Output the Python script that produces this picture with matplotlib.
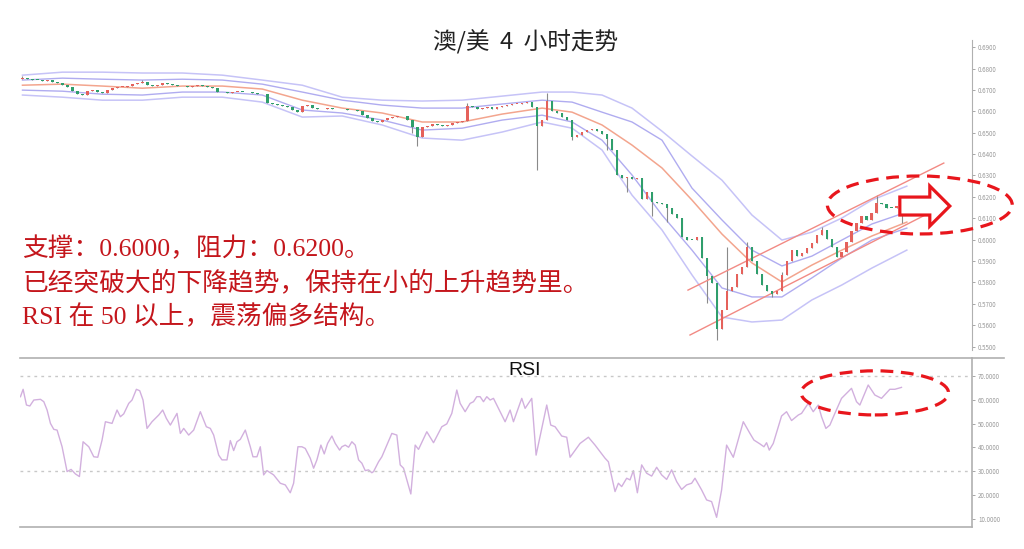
import matplotlib
matplotlib.use("Agg")
import matplotlib.pyplot as plt
from matplotlib.patches import Ellipse, FancyArrow
from matplotlib.lines import Line2D
from matplotlib.ticker import FormatStrFormatter

plt.rcParams['font.family'] = ['Noto Sans CJK SC', 'DejaVu Sans']
plt.rcParams['axes.unicode_minus'] = False

# ---- 数据 ----
closes = [
    0.6755, 0.6750, 0.6748, 0.6746, 0.6744, 0.6746, 0.6738, 0.6732, 0.6725, 0.6712,
    0.6695, 0.6683, 0.6678, 0.6697, 0.6699, 0.6690, 0.6685, 0.6699, 0.6708, 0.6713,
    0.6713, 0.6720, 0.6728, 0.6732, 0.6737, 0.6722, 0.6720, 0.6724, 0.6730, 0.6728,
    0.6722, 0.6720, 0.6716, 0.6713, 0.6718, 0.6722, 0.6717, 0.6713, 0.6708, 0.6692,
    0.6688, 0.6684, 0.6690, 0.6692, 0.6690, 0.6688, 0.6685, 0.6682, 0.6680, 0.6640,
    0.6636, 0.6630, 0.6627, 0.6620, 0.6605, 0.6598, 0.6625, 0.6628, 0.6615, 0.6610,
    0.6612, 0.6615, 0.6612, 0.6610, 0.6612, 0.6606, 0.6604, 0.6600, 0.6585, 0.6570,
    0.6555, 0.6552, 0.6560, 0.6568, 0.6575, 0.6580, 0.6576, 0.6560, 0.6525, 0.6480,
    0.6525, 0.6530, 0.6540, 0.6536, 0.6530, 0.6538, 0.6545, 0.6550, 0.6556, 0.6625,
    0.6620, 0.6612, 0.6615, 0.6618, 0.6612, 0.6620, 0.6625, 0.6630, 0.6635, 0.6635,
    0.6640, 0.6642, 0.6620, 0.6530, 0.6560, 0.6650, 0.6600, 0.6590, 0.6575, 0.6560,
    0.6480, 0.6490, 0.6505, 0.6512, 0.6518, 0.6510, 0.6495, 0.6470, 0.6420, 0.6300,
    0.6290, 0.6292, 0.6285, 0.6288, 0.6190, 0.6222, 0.6178, 0.6170, 0.6165, 0.6150,
    0.6120, 0.6100, 0.6010, 0.6000, 0.5998, 0.6010, 0.5915, 0.5830, 0.5795, 0.5580,
    0.5670, 0.5760, 0.5780, 0.5840, 0.5870, 0.5965, 0.5900, 0.5840, 0.5790, 0.5760,
    0.5745, 0.5760, 0.5835, 0.5900, 0.5950, 0.5925, 0.5937, 0.5960, 0.5985, 0.6020,
    0.6045, 0.6005, 0.5965, 0.5920, 0.5940, 0.5990, 0.6040, 0.6080, 0.6110, 0.6090,
    0.6125, 0.6170, 0.6168, 0.6150, 0.6148, 0.6155, 0.6160, 0.6165,
]
first_open = 0.6752

# 影线（只标出明显的）
hi_idx = [0, 24, 89, 105, 141, 145, 152, 160, 171, 177]
hi_val = [0.6765, 0.6745, 0.6640, 0.6685, 0.5965, 0.5989, 0.5850, 0.6060, 0.6208, 0.6190]
lo_idx = [78, 79, 103, 110, 117, 121, 126, 129, 137, 139, 141, 150, 176]
lo_val = [0.6500, 0.6437, 0.6325, 0.6465, 0.6420, 0.6225, 0.6110, 0.6082, 0.5705, 0.5531, 0.5727, 0.5730, 0.6080]

# 布林带（按采样点读取）
band_x = [0, 8, 16, 24, 32, 40, 48, 56, 64, 72, 80, 88, 96, 104, 110, 116, 122, 128,
          134, 140, 146, 152, 158, 164, 170, 177]
band_mid = [0.6722, 0.6727, 0.6718, 0.6708, 0.6718, 0.6718, 0.6704, 0.6652, 0.6615, 0.6592,
            0.6550, 0.6550, 0.6587, 0.6615, 0.6596, 0.6536, 0.6442, 0.6335, 0.6185, 0.6026,
            0.5891, 0.5802, 0.5881, 0.5951, 0.6017, 0.6082]
band_up1 = [0.6746, 0.6755, 0.6750, 0.6746, 0.6750, 0.6746, 0.6727, 0.6690, 0.6652, 0.6629,
            0.6615, 0.6615, 0.6634, 0.6652, 0.6643, 0.6596, 0.6550, 0.6465, 0.6241, 0.6092,
            0.5951, 0.5877, 0.5923, 0.5998, 0.6073, 0.6129]
band_up2 = [0.6769, 0.6783, 0.6783, 0.6779, 0.6779, 0.6769, 0.6746, 0.6722, 0.6666, 0.6652,
            0.6648, 0.6652, 0.6671, 0.6690, 0.6690, 0.6676, 0.6615, 0.6507, 0.6391, 0.6278,
            0.6115, 0.5998, 0.6035, 0.6101, 0.6185, 0.6250]
band_lo1 = [0.6699, 0.6694, 0.6680, 0.6676, 0.6690, 0.6690, 0.6676, 0.6606, 0.6592, 0.6559,
            0.6512, 0.6521, 0.6559, 0.6582, 0.6550, 0.6465, 0.6302, 0.6115, 0.5951, 0.5774,
            0.5732, 0.5732, 0.5821, 0.5914, 0.5998, 0.6054]
band_lo2 = [0.6676, 0.6666, 0.6652, 0.6652, 0.6666, 0.6666, 0.6643, 0.6573, 0.6578, 0.6536,
            0.6475, 0.6465, 0.6503, 0.6550, 0.6521, 0.6419, 0.6208, 0.6045, 0.5835, 0.5638,
            0.5615, 0.5624, 0.5718, 0.5788, 0.5867, 0.5951]

# 上升通道
chan_up_x = [133.2, 184.4]
chan_up_y = [0.5764, 0.6358]
chan_lo_x = [133.6, 183.6]
chan_lo_y = [0.5554, 0.6150]

# RSI
rsi_x = [-0.4, 0.13, 0.8, 1.47, 2.27, 3.6, 4.27, 4.93, 5.6, 6.27, 6.93, 7.93, 8.93, 9.73,
         10.6, 11.4, 12.13, 13.27, 14.27, 15.07, 15.93, 16.6, 17.93, 18.93, 19.6, 20.27,
         21.27, 21.93, 22.8, 23.47, 24.13, 24.93, 25.93, 27.27, 28.07, 28.8, 29.6, 30.93,
         31.6, 32.27, 33.27, 34.27, 35.6, 36.8, 37.6, 38.27, 39.27, 39.93, 40.93, 41.6,
         42.27, 42.93, 43.6, 44.6, 45.6, 46.13, 46.93, 47.6, 48.27, 48.93, 50.27, 51.6,
         52.6, 53.6, 54.27, 55.13, 55.93, 56.6, 57.6, 58.27, 58.93, 59.73, 60.4, 61.07,
         61.93, 62.6, 63.47, 63.93, 64.6, 65.27, 65.93, 66.6, 67.27, 67.93, 68.6, 69.27,
         69.93, 70.27, 71.27, 71.93, 72.93, 73.93, 74.93, 75.6, 76.27, 77.73, 78.6, 79.27,
         80.93, 82.27, 83.93, 84.93, 85.93, 86.93, 87.6, 88.6, 89.6, 90.27, 90.93,
         91.6, 92.27, 92.93, 93.6, 94.27, 96.6, 97.6, 98.27, 99.93, 100.6, 101.93, 102.8,
         103.93, 104.93, 105.73, 106.6, 107.93, 108.93, 109.6, 111.6, 113.27, 114.6, 116.6,
         117.27, 118.6, 119.27, 119.93, 120.93, 121.6, 122.27, 123.07, 123.93, 124.93,
         125.93, 126.93, 127.93, 128.93, 129.93, 130.93, 131.93, 132.93, 133.93, 134.6,
         135.93, 136.93, 137.93, 138.93, 139.93, 140.93, 142.27, 144.27, 145.6, 146.4,
         147.6, 148.4, 148.93, 149.47, 150.27, 151.93, 152.93, 153.93, 155.27, 155.93,
         157.27, 158.27, 159.27, 159.93, 160.8, 161.6, 162.6, 163.93, 164.93, 165.93,
         166.93, 167.6, 169.27, 170.6, 171.93, 173.6, 174.6, 175.93]
rsi_val = [61.3, 64.4, 57.8, 57.4, 59.9, 60.2, 59.2, 55.7, 50.1, 47.6, 47.3, 40.3, 29.9, 30.8,
           28.9, 27.8, 42.4, 40.3, 36.1, 35.9, 43.1, 50.8, 50.1, 55.7, 52.9, 54.1,
           58.5, 59.9, 64.4, 63.8, 59.9, 48.0, 50.8, 53.6, 55.7, 52.2, 49.4, 54.3,
           45.9, 48.0, 45.2, 47.3, 55.0, 48.7, 48.0, 45.2, 36.8, 34.8, 34.8, 42.9,
           38.7, 42.4, 43.4, 47.3, 40.3, 36.1, 36.1, 40.3, 28.5, 30.3, 28.5, 25.0,
           24.3, 21.0, 25.0, 40.3, 40.3, 39.6, 35.5, 31.3, 34.8, 41.0, 37.3, 41.7,
           44.8, 41.7, 38.9, 40.3, 41.0, 40.1, 42.4, 41.0, 34.8, 33.4, 30.3, 30.6,
           29.4, 29.9, 34.0, 36.1, 41.0, 45.9, 45.2, 32.7, 31.3, 20.5, 41.0, 39.2,
           46.6, 42.0, 48.7, 49.9, 54.3, 64.1, 58.5, 55.0, 58.5, 59.2, 61.3,
           61.3, 59.2, 61.3, 59.9, 60.6, 50.8, 55.7, 50.8, 60.6, 56.4, 60.6, 36.8,
           48.0, 57.8, 49.4, 48.7, 44.8, 44.3, 35.9, 41.7, 44.3, 41.0, 35.5,
           34.0, 21.5, 25.0, 23.6, 27.1, 26.4, 30.3, 21.0, 32.7, 29.2,
           28.0, 31.7, 28.5, 26.6, 30.6, 25.7, 22.4, 24.3, 25.0, 27.1,
           22.2, 18.0, 17.3, 10.7, 22.2, 41.0, 35.9, 50.8, 45.9, 43.1,
           41.5, 40.3, 42.0, 38.9, 41.7, 53.2, 55.0, 51.3, 53.6, 54.3,
           58.5, 55.0, 57.8, 52.9, 48.0, 49.4, 54.3, 60.6, 62.7, 64.8,
           59.2, 57.8, 66.2, 62.0, 60.6, 64.4, 64.4, 65.2]

price_ticks = [0.55, 0.56, 0.57, 0.58, 0.59, 0.60, 0.61, 0.62, 0.63, 0.64,
               0.65, 0.66, 0.67, 0.68, 0.69]
rsi_ticks = [10, 20, 30, 40, 50, 60, 70]

title = "澳/美  4  小时走势"
notes = ["支撑：0.6000，阻力：0.6200。",
         "已经突破大的下降趋势，保持在小的上升趋势里。",
         "RSI 在 50 以上，震荡偏多结构。"]

# ---- 画图 ----
fig = plt.figure(figsize=(10.24, 5.49), dpi=100)
ax = fig.add_axes([0.0195, 0.3625, 0.9295, 0.5645])
ax2 = fig.add_axes([0.0195, 0.040, 0.9295, 0.308])

UP = '#e5615b'
DOWN = '#2f9e6c'
WICK = '#8a8a8a'

n = len(closes)
opens = [first_open] + closes[:-1]
highs = [max(o, c) for o, c in zip(opens, closes)]
lows = [min(o, c) for o, c in zip(opens, closes)]
for i, v in zip(hi_idx, hi_val):
    highs[i] = v
for i, v in zip(lo_idx, lo_val):
    lows[i] = v

xs = list(range(n))
ax.vlines(xs, lows, highs, color=WICK, lw=0.8, zorder=2)
for i in xs:
    o, c = opens[i], closes[i]
    col = UP if c >= o else DOWN
    h = max(abs(c - o), 0.0003)
    ax.bar(i, h, bottom=min(o, c), width=0.55, color=col, lw=0, zorder=3)

# 布林带
ax.plot(band_x, band_up2, color='#c6c3f7', lw=1.1, zorder=1)
ax.plot(band_x, band_up1, color='#b0acf0', lw=1.0, zorder=1)
ax.plot(band_x, band_mid, color='#f3a58e', lw=1.1, zorder=1)
ax.plot(band_x, band_lo1, color='#b0acf0', lw=1.0, zorder=1)
ax.plot(band_x, band_lo2, color='#c6c3f7', lw=1.1, zorder=1)

# 通道线
ax.plot(chan_up_x, chan_up_y, color='#f28a84', lw=1.0, zorder=2)
ax.plot(chan_lo_x, chan_lo_y, color='#f28a84', lw=1.0, zorder=2)

# 椭圆和箭头
ax.add_patch(Ellipse((179.6, 0.6162), 37, 0.0271, fill=False, ec='#e8161c',
                     lw=2.3, ls=(0, (4, 2.4)), zorder=5, clip_on=False))
ax.add_patch(FancyArrow(175.6, 0.6157, 10, 0, width=0.0084, head_width=0.0187,
                        head_length=4, length_includes_head=True, fc='white',
                        ec='#e8161c', lw=2.3, zorder=6, clip_on=False))

ax.set_xlim(-0.5, 190)
ax.set_ylim(0.5484, 0.6933)
for s in ['top', 'left', 'bottom']:
    ax.spines[s].set_visible(False)
ax.spines['right'].set_color('#b0b0b0')
ax.yaxis.tick_right()
ax.set_yticks(price_ticks)
ax.yaxis.set_major_formatter(FormatStrFormatter('%.4f'))
ax.tick_params(axis='y', labelsize=4.5, colors='#999999', length=2.5, width=0.6, pad=2)
ax.set_xticks([])

fig.text(0.513, 0.9235, title, fontsize=17, color='#222222', ha='center', va='center')

for k, line in enumerate(notes):
    ax.text(0.0025, 0.327 - k * 0.1095, line, transform=ax.transAxes, fontsize=18.5,
            color='#c4161c', va='center', ha='left',
            family=['Liberation Serif', 'Noto Sans CJK SC'])

# ---- RSI ----
ax2.plot(rsi_x, rsi_val, color='#d2b0de', lw=1.0)
ax2.axhline(70, color='#c8c8c8', lw=1.0, ls=(0, (2, 3)))
ax2.axhline(30, color='#c8c8c8', lw=1.0, ls=(0, (2, 3)))
ax2.add_patch(Ellipse((170.6, 62.9), 29.5, 18.5, fill=False, ec='#e8161c',
                      lw=2.3, ls=(0, (4, 2.4)), zorder=5))
ax2.set_xlim(-0.5, 190)
ax2.set_ylim(6.63, 77.55)
ax2.spines['left'].set_visible(False)
for s in ['top', 'bottom', 'right']:
    ax2.spines[s].set_color('#b0b0b0')
    ax2.spines[s].set_linewidth(1.2)
ax2.yaxis.tick_right()
ax2.set_yticks(rsi_ticks)
ax2.yaxis.set_major_formatter(FormatStrFormatter('%.4f'))
ax2.tick_params(axis='y', labelsize=4.5, colors='#999999', length=2.5, width=0.6, pad=2)
ax2.set_xticks([])
ax2.text(0.53, 0.925, "RSI", transform=ax2.transAxes, fontsize=14, color='#111111',
         ha='center', va='center', family=['Liberation Sans', 'DejaVu Sans'])

fig.add_artist(Line2D([0.949, 0.980], [0.348, 0.348], transform=fig.transFigure,
                      color='#b0b0b0', lw=1.2))

fig.savefig("out.png", dpi=100, facecolor='white')
